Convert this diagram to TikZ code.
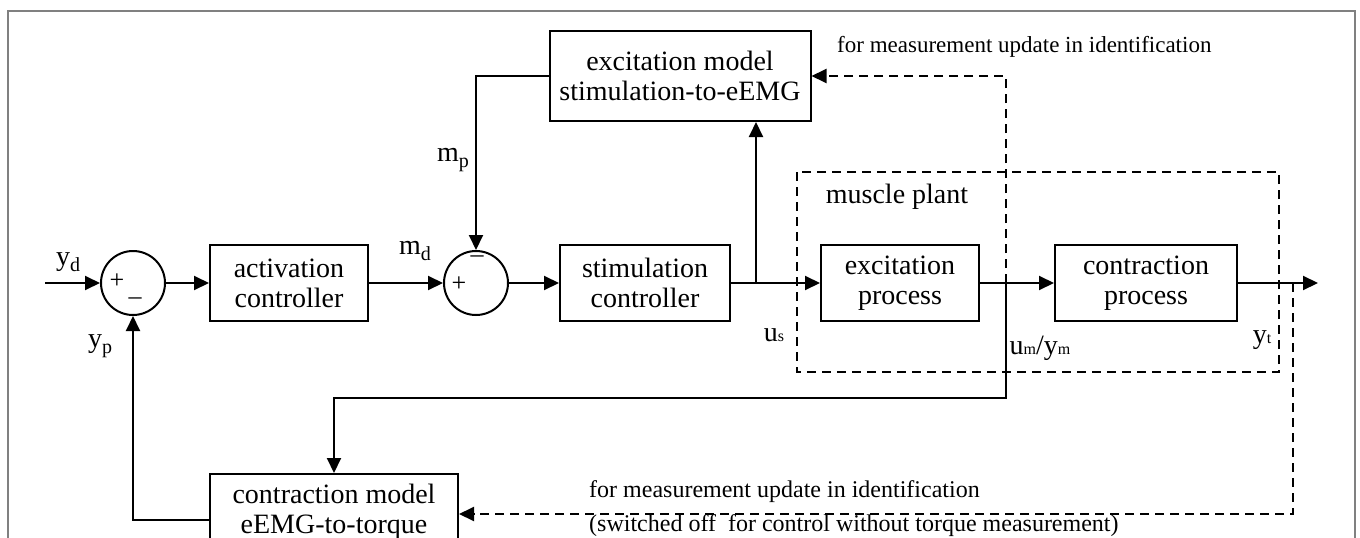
\documentclass[tikz,border=0pt]{standalone}
\usepackage{fontspec}
\setmainfont{Liberation Serif}
\usetikzlibrary{calc}
\usetikzlibrary{arrows.meta}

\newcommand{\sigsub}[2]{#1\raisebox{-0.45ex}{\fontsize{20}{20}\selectfont #2}}
\newcommand{\sigsmall}[2]{#1{\fontsize{16}{16}\selectfont #2}}

\begin{document}
\begin{tikzpicture}[x=1pt,y=-1pt]
    \tikzstyle{block}=[draw,line width=2pt,align=center,inner sep=0pt,font=\fontsize{28}{30}\selectfont]
    \tikzstyle{sum}=[draw,circle,line width=2pt,minimum size=64pt,inner sep=0pt]
    \tikzstyle{signal}=[-{Triangle[length=15pt,width=14pt]},line width=2pt]
    \tikzstyle{measurement}=[-{Triangle[length=15pt,width=14pt]},line width=2pt,dash pattern=on 9pt off 6pt]
    \tikzstyle{plant}=[line width=2pt,dash pattern=on 9pt off 6pt]
    \tikzstyle{label}=[inner sep=0pt,font=\fontsize{28}{30}\selectfont]
    \tikzstyle{sign}=[inner sep=0pt,font=\fontsize{26}{26}\selectfont]
    \tikzstyle{note}=[inner sep=0pt,anchor=west,font=\fontsize{23}{25}\selectfont]
    \tikzstyle{note big}=[inner sep=0pt,anchor=west,font=\fontsize{24}{26}\selectfont]

    \useasboundingbox (0,0) rectangle (1360,538);

    % Frame
    \draw[gray,line width=2pt] (8,545) -- (8,11) -- (1355,11) -- (1355,545);

    % Blocks
    \node[style=sum] (sum_1) at (133,283) {};
    \node[style=sum] (sum_2) at (476,283) {};
    \node[style=block,minimum width=158pt,minimum height=76pt] (act) at (289,283) {activation\\controller};
    \node[style=block,minimum width=170pt,minimum height=76pt] (stim) at (645,283) {stimulation\\controller};
    \node[style=block,minimum width=261pt,minimum height=90pt] (ex_model) at (680,76) {excitation model\\stimulation-to-eEMG};
    \node[style=block,minimum width=158pt,minimum height=76pt] (ex_proc) at (900,283) {excitation\\process};
    \node[style=block,minimum width=182pt,minimum height=76pt] (con_proc) at (1146,283) {contraction\\process};
    \node[style=block,minimum width=248pt,minimum height=76pt] (con_model) at (334,512) {contraction model\\eEMG-to-torque};

    % Signal points
    \coordinate (y_d) at (45,283);
    \coordinate (u_s) at (756,283);
    \coordinate (u_m) at (1006,283);
    \coordinate (y_t) at (1293,283);
    \coordinate (y_out) at (1318,283);
    \coordinate (u_m_down) at (1006,398);
    \coordinate (y_t_down) at (1293,514);
    \coordinate (y_p_corner) at (133,520);

    % Muscle plant
    \draw[style=plant] (797,172) rectangle (1279,372);
    \node[style=label] (plant) at (897,197) {muscle plant};

    % Forward path
    \draw[style=signal] (y_d) -- (sum_1);
    \draw[style=signal] (sum_1) -- (act);
    \draw[style=signal] (act) -- (sum_2);
    \draw[style=signal] (sum_2) -- (stim);
    \draw[style=signal] (stim) -- (ex_proc);
    \draw[style=signal] (u_s) -- (u_s |- ex_model.south);
    \draw[style=signal] (ex_model) -| (sum_2);
    \draw[style=signal] (ex_proc) -- (con_proc);
    \draw[style=signal] (con_proc) -- (y_out);

    % Feedback path
    \draw[style=signal] (u_m) -- (u_m_down) -| (con_model);
    \draw[style=signal] (con_model.west |- y_p_corner) -- (y_p_corner) -- (sum_1);

    % Measurement updates
    \draw[style=measurement] (u_m) -- (u_m |- ex_model) -- (ex_model);
    \draw[style=measurement] (y_t) -- (y_t_down) -- (y_t_down -| con_model.east);

    % Signs
    \node[style=sign] at (117,281) {+};
    \node[style=sign] at (135,301) {–};
    \node[style=sign] at (459,284) {+};
    \node[style=sign] at (477,259) {–};

    % Signal labels
    \node[style=label] (lab_y_d) at (68,262) {\sigsub{y}{d}};
    \node[style=label] (lab_y_p) at (100,346) {\sigsub{y}{p}};
    \node[style=label] (lab_m_d) at (415,251) {\sigsub{m}{d}};
    \node[style=label] (lab_m_p) at (453,160) {\sigsub{m}{p}};
    \node[style=label] (lab_u_s) at (774,335) {\sigsmall{u}{s}};
    \node[style=label] (lab_u_m) at (1040,348) {\sigsmall{u}{m}/\sigsmall{y}{m}};
    \node[style=label] (lab_y_t) at (1262,340) {\sigsmall{y}{t}};

    % Notes
    \node[style=note] (note_top) at (837,47) {for measurement update in identification};
    \node[style=note big] (note_bottom) at (589,492) {for measurement update in identification};
    \node[style=note big] (note_off) at (589,526) {(switched off\ \ for control without torque measurement)};
\end{tikzpicture}
\end{document}
